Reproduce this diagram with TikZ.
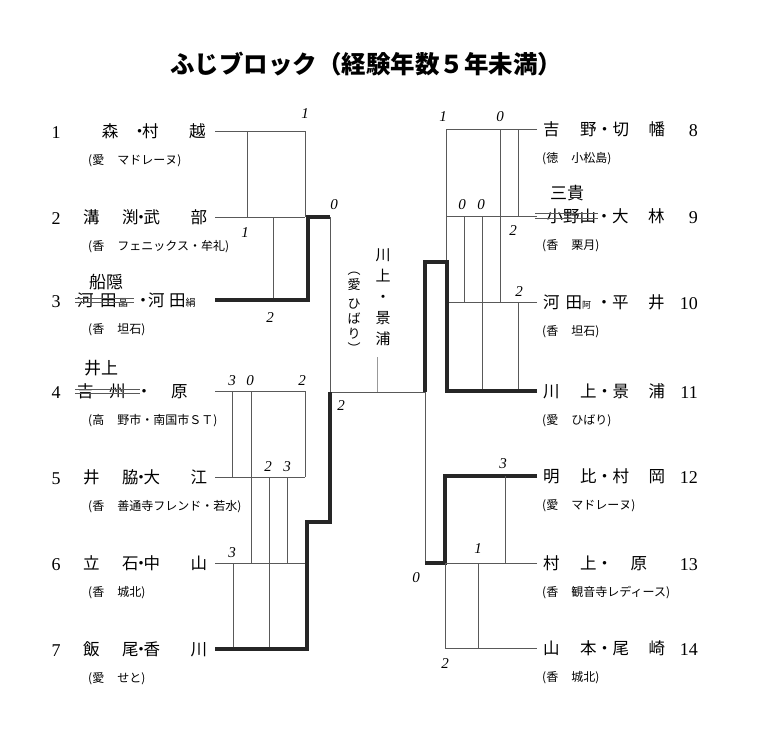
\documentclass[tikz,border=0pt]{standalone}
\usepackage{fontspec}
\usepackage{tikz}
\setmainfont{Liberation Serif}
\newfontfamily\jp{Noto Sans CJK JP}
\newcommand{\lname}[4]{\makebox[39pt][l]{#1}#2\makebox[5pt]{・}\makebox[47pt][l]{#3}#4}
\newcommand{\rname}[4]{\makebox[37pt][l]{#1}#2\makebox[16pt]{・}\makebox[36pt][l]{#3}#4}

\begin{document}
\begin{tikzpicture}[x=1pt, y=-1pt,
  tline/.style={draw=black!65, line width=0.8pt},
  wline/.style={draw=black!85, line width=3.3pt, line join=miter},
  pname/.style={anchor=base west, inner sep=0pt, font=\jp\fontsize{16.5}{18}\selectfont},
  club/.style={anchor=base west, inner sep=0pt, font=\jp\fontsize{12}{13}\selectfont},
  seed/.style={anchor=base, inner sep=0pt, font=\fontsize{18}{20}\selectfont},
  score/.style={inner sep=0pt, font=\itshape\fontsize{15}{16}\selectfont},
  hand/.style={inner sep=0pt, font=\jp\fontsize{17}{19}\selectfont}]
\fill[white] (0,0) rectangle (776,740);
\useasboundingbox (0,0) rectangle (776,740);
\node[font=\jp\bfseries\fontsize{24.5}{27}\selectfont] (title) at (366,64) {ふじブロック（経験年数５年未満）};
\node[seed] (s1) at (56,138) {1};
\node[seed] (s2) at (56,224) {2};
\node[seed] (s3) at (56,307) {3};
\node[seed] (s4) at (56,398) {4};
\node[seed] (s5) at (56,484) {5};
\node[seed] (s6) at (56,570) {6};
\node[seed] (s7) at (56,656) {7};
\node[pname] (p1) at (83,137) {\makebox[54pt][c]{森}\makebox[5pt]{・}\makebox[47pt][l]{村}越};
\node[pname] (p2) at (83,223) {\lname{溝}{渕}{武}{部}};
\node[pname] (p3) at (77,306) {\makebox[23pt][l]{河}\makebox[18pt][l]{田}\makebox[20pt][l]{\fontsize{10}{10}\selectfont 晶}\makebox[10pt]{・}\makebox[21pt][l]{河}田{\fontsize{10}{10}\selectfont 絹}};
\node[pname] (p4) at (77,397) {\makebox[32pt][l]{吉}\makebox[30pt][l]{州}\makebox[10pt]{・}\hspace{22pt}原};
\node[pname] (p5) at (83,483) {\lname{井}{脇}{大}{江}};
\node[pname] (p6) at (83,569) {\lname{立}{石}{中}{山}};
\node[pname] (p7) at (83,655) {\lname{飯}{尾}{香}{川}};
\node[club] (c1) at (88,164) {(愛\hspace{1.1em}マドレーヌ)};
\node[club] (c2) at (88,250) {(香\hspace{1.1em}フェニックス・牟礼)};
\node[club] (c3) at (88,333) {(香\hspace{1.1em}坦石)};
\node[club] (c4) at (88,424) {(高\hspace{1.1em}野市・南国市ＳＴ)};
\node[club] (c5) at (88,510) {(香\hspace{1.1em}善通寺フレンド・若水)};
\node[club] (c6) at (88,596) {(香\hspace{1.1em}城北)};
\node[club] (c7) at (88,682) {(愛\hspace{1.1em}せと)};
\draw[tline] (75,298) -- (134,298) (75,302) -- (134,302);
\draw[tline] (75,389) -- (140,389) (75,393) -- (140,393);
\node[hand] (h3) at (106,282) {船隠};
\node[hand] (h4) at (101,368) {井上};
\node[seed, anchor=base east] (s8) at (698,136) {8};
\node[seed, anchor=base east] (s9) at (698,223) {9};
\node[seed, anchor=base east] (s10) at (698,309) {10};
\node[seed, anchor=base east] (s11) at (698,398) {11};
\node[seed, anchor=base east] (s12) at (698,483) {12};
\node[seed, anchor=base east] (s13) at (698,570) {13};
\node[seed, anchor=base east] (s14) at (698,655) {14};
\node[pname] (p8) at (543,135) {\rname{吉}{野}{切}{幡}};
\node[pname] (p9) at (543,222) {\makebox[53pt][r]{小野山}\makebox[16pt]{・}\makebox[36pt][l]{大}林};
\node[pname] (p10) at (543,308) {\makebox[53pt][l]{河\hspace{6pt}田{\fontsize{9}{9}\selectfont 阿}}\makebox[16pt]{・}\makebox[36pt][l]{平}井};
\node[pname] (p11) at (543,397) {\rname{川}{上}{景}{浦}};
\node[pname] (p12) at (543,482) {\rname{明}{比}{村}{岡}};
\node[pname] (p13) at (543,569) {\makebox[37pt][l]{村}上\makebox[16pt]{・}\hspace{18pt}原};
\node[pname] (p14) at (543,654) {\rname{山}{本}{尾}{崎}};
\node[club] (c8) at (542,162) {(徳\hspace{1.1em}小松島)};
\node[club] (c9) at (542,249) {(香\hspace{1.1em}栗月)};
\node[club] (c10) at (542,335) {(香\hspace{1.1em}坦石)};
\node[club] (c11) at (542,424) {(愛\hspace{1.1em}ひばり)};
\node[club] (c12) at (542,509) {(愛\hspace{1.1em}マドレーヌ)};
\node[club] (c13) at (542,596) {(香\hspace{1.1em}観音寺レディース)};
\node[club] (c14) at (542,681) {(香\hspace{1.1em}城北)};
\draw[tline] (535,213) -- (598,213) (535,218) -- (598,218);
\node[hand] (h9) at (567,193) {三貴};
\draw[tline] (215,131) -- (305,131) -- (305,217);
\draw[tline] (247,131) -- (247,217);
\draw[tline] (215,217) -- (305,217);
\draw[tline] (273,217) -- (273,300);
\draw[wline] (215,300) -- (308,300) -- (308,217) -- (330,217);
\draw[tline] (330,217) -- (330,392) -- (425,392);
\draw[tline, black!40] (377,357) -- (377,392);
\draw[tline] (215,391) -- (305,391) -- (305,477);
\draw[tline] (232,391) -- (232,477);
\draw[tline] (251,391) -- (251,563);
\draw[tline] (215,477) -- (305,477);
\draw[tline] (269,477) -- (269,649);
\draw[tline] (287,477) -- (287,563);
\draw[tline] (215,563) -- (307,563);
\draw[tline] (233,563) -- (233,649);
\draw[wline] (215,649) -- (307,649) -- (307,522) -- (330,522) -- (330,392);
\draw[tline] (537,129) -- (446,129) -- (446,262);
\draw[tline] (500,129) -- (500,302);
\draw[tline] (518,129) -- (518,216);
\draw[tline] (537,216) -- (446,216);
\draw[tline] (464,216) -- (464,302);
\draw[tline] (482,216) -- (482,391);
\draw[tline] (537,302) -- (446,302);
\draw[tline] (518,302) -- (518,391);
\draw[wline] (537,391) -- (447,391) -- (447,262) -- (425,262) -- (425,392);
\draw[tline] (425,392) -- (425,563);
\draw[wline] (537,476) -- (445,476) -- (445,563) -- (425,563);
\draw[tline] (537,563) -- (445,563) -- (445,648) -- (537,648);
\draw[tline] (505,476) -- (505,563);
\draw[tline] (478,563) -- (478,648);
\node[score] (a1) at (305,114) {1};
\node[score] (a2) at (245,233) {1};
\node[score] (a3) at (334,205) {0};
\node[score] (a4) at (270,318) {2};
\node[score] (a5) at (232,381) {3};
\node[score] (a6) at (250,381) {0};
\node[score] (a7) at (302,381) {2};
\node[score] (a8) at (268,467) {2};
\node[score] (a9) at (287,467) {3};
\node[score] (a10) at (232,553) {3};
\node[score] (a11) at (341,406) {2};
\node[score] (b1) at (443,117) {1};
\node[score] (b2) at (500,117) {0};
\node[score] (b3) at (462,205) {0};
\node[score] (b4) at (481,205) {0};
\node[score] (b5) at (513,231) {2};
\node[score] (b6) at (519,292) {2};
\node[score] (b7) at (503,464) {3};
\node[score] (b8) at (478,549) {1};
\node[score] (b9) at (416,578) {0};
\node[score] (b10) at (445,664) {2};
\node[hand, align=center, font=\jp\fontsize{15}{21}\selectfont] (win) at (383,297) {川\\上\\・\\景\\浦};
\node[hand, align=center, font=\jp\fontsize{13}{15}\selectfont] (winc) at (354,313) {︵\\愛\\[4pt]ひ\\ば\\り\\︶};
\end{tikzpicture}
\end{document}
